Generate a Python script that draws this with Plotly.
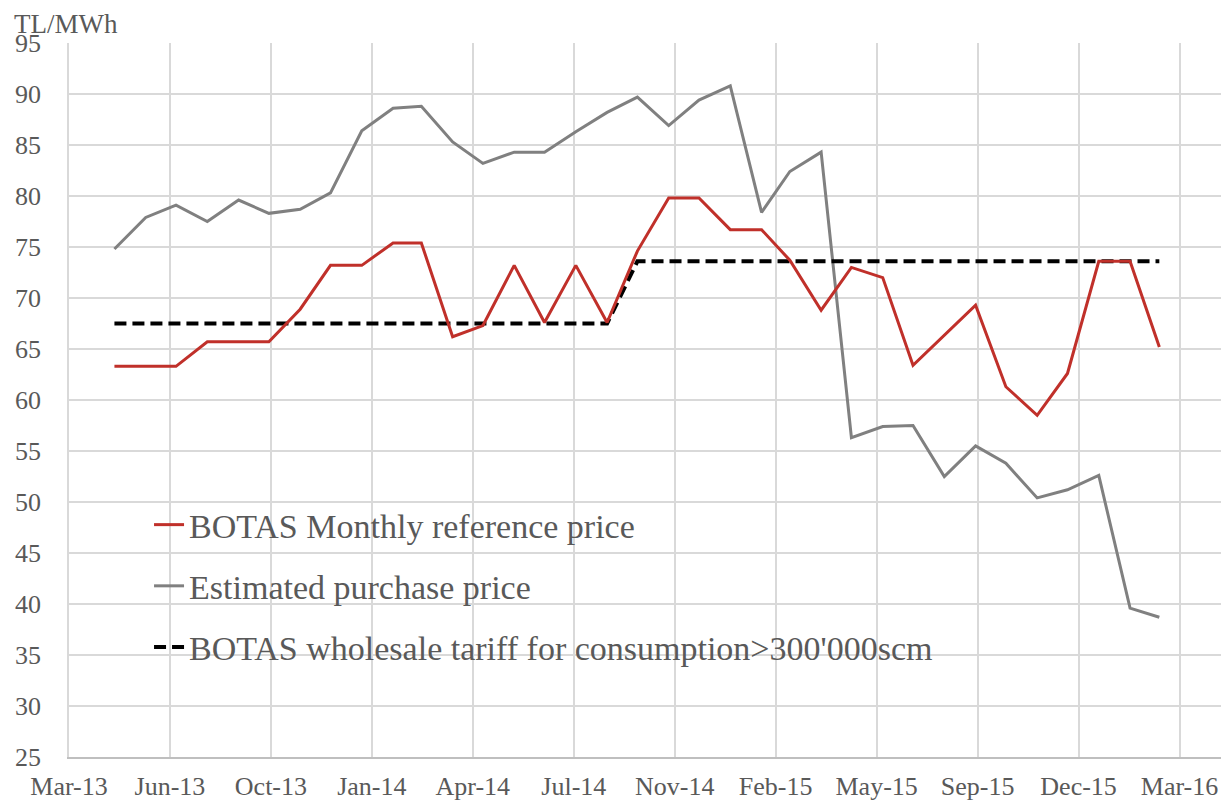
import plotly.graph_objects as go
from datetime import date, timedelta

# ---- data ----
months = ["2013-05-01", "2013-06-01", "2013-07-01", "2013-08-01", "2013-09-01", "2013-10-01",
          "2013-11-01", "2013-12-01", "2014-01-01", "2014-02-01", "2014-03-01", "2014-04-01",
          "2014-05-01", "2014-06-01", "2014-07-01", "2014-08-01", "2014-09-01", "2014-10-01",
          "2014-11-01", "2014-12-01", "2015-01-01", "2015-02-01", "2015-03-01", "2015-04-01",
          "2015-05-01", "2015-06-01", "2015-07-01", "2015-08-01", "2015-09-01", "2015-10-01",
          "2015-11-01", "2015-12-01", "2016-01-01", "2016-02-01", "2016-03-01"]

botas_reference = [63.3, 63.3, 63.3, 65.7, 65.7, 65.7, 68.9, 73.2, 73.2, 75.4, 75.4, 66.2,
                   67.3, 73.2, 67.6, 73.2, 67.6, 74.6, 79.8, 79.8, 76.7, 76.7, 73.7, 68.8,
                   73.0, 72.0, 63.4, 66.4, 69.3, 61.3, 58.5, 62.6, 73.6, 73.6, 65.2]

estimated_purchase = [74.8, 77.9, 79.1, 77.5, 79.6, 78.3, 78.7, 80.3, 86.4, 88.6, 88.8, 85.3,
                      83.2, 84.3, 84.3, 86.3, 88.2, 89.7, 86.9, 89.4, 90.8, 78.4, 82.4, 84.3,
                      56.3, 57.4, 57.5, 52.5, 55.5, 53.8, 50.4, 51.2, 52.6, 39.6, 38.7]

wholesale_tariff = [67.5] * 17 + [73.6] * 18

tick_labels = ["Mar-13", "Jun-13", "Oct-13", "Jan-14", "Apr-14", "Jul-14",
               "Nov-14", "Feb-15", "May-15", "Sep-15", "Dec-15", "Mar-16"]
tick_start = date(2013, 3, 17)
tick_step_days = 100
tick_dates = [(tick_start + timedelta(days=tick_step_days * i)).isoformat() for i in range(len(tick_labels))]
x_end = (tick_start + timedelta(days=1149)).isoformat()

series_names = ["BOTAS Monthly reference price",
                "Estimated purchase price",
                "BOTAS wholesale tariff for consumption>300'000scm"]

FONT = "Liberation Serif"
TXT = "#595959"

fig = go.Figure()
fig.add_trace(go.Scatter(x=months, y=estimated_purchase, mode="lines", name=series_names[1],
                         line=dict(color="#808080", width=3), legendgroup="b", legendrank=2))
fig.add_trace(go.Scatter(x=months, y=wholesale_tariff, mode="lines", name=series_names[2],
                         line=dict(color="#000000", width=4, dash="12px,6px"), legendgroup="c", legendrank=3))
fig.add_trace(go.Scatter(x=months, y=botas_reference, mode="lines", name=series_names[0],
                         line=dict(color="#c0302a", width=3), legendgroup="a", legendrank=1))

# page body has an 8px default margin: size the figure so the plot area lands where the reference has it
fig.update_layout(
    width=1221, height=792,
    margin=dict(l=61, r=0, t=35, b=43),
    paper_bgcolor="white", plot_bgcolor="white",
    font=dict(family=FONT, size=26, color=TXT),
    showlegend=True,
    legend=dict(x=0.069, y=0.3655, xanchor="left", yanchor="top",
                bgcolor="rgba(0,0,0,0)", font=dict(family=FONT, size=34, color=TXT),
                tracegroupgap=14, itemwidth=30),
    xaxis=dict(type="date", range=[tick_start.isoformat(), x_end], automargin=False,
               tickmode="array", tickvals=tick_dates, ticktext=tick_labels,
               showgrid=True, gridcolor="#d9d9d9", gridwidth=1.5,
               showline=True, linecolor="#bfbfbf", linewidth=2,
               ticks="", ticklabelstandoff=5,
               tickfont=dict(family=FONT, size=26, color=TXT)),
    yaxis=dict(range=[25, 95], tickmode="linear", tick0=25, dtick=5, automargin=False,
               showgrid=True, gridcolor="#d9d9d9", gridwidth=1.5,
               showline=True, linecolor="#d9d9d9", linewidth=1.5,
               zeroline=False, ticks="", ticklabelstandoff=21,
               tickfont=dict(family=FONT, size=26, color=TXT)),
    annotations=[dict(text="TL/MWh", xref="paper", yref="paper", x=-0.049, y=1.027,
                      xanchor="left", yanchor="middle", showarrow=False,
                      font=dict(family=FONT, size=27, color=TXT))],
)

fig.write_html("out.html")
